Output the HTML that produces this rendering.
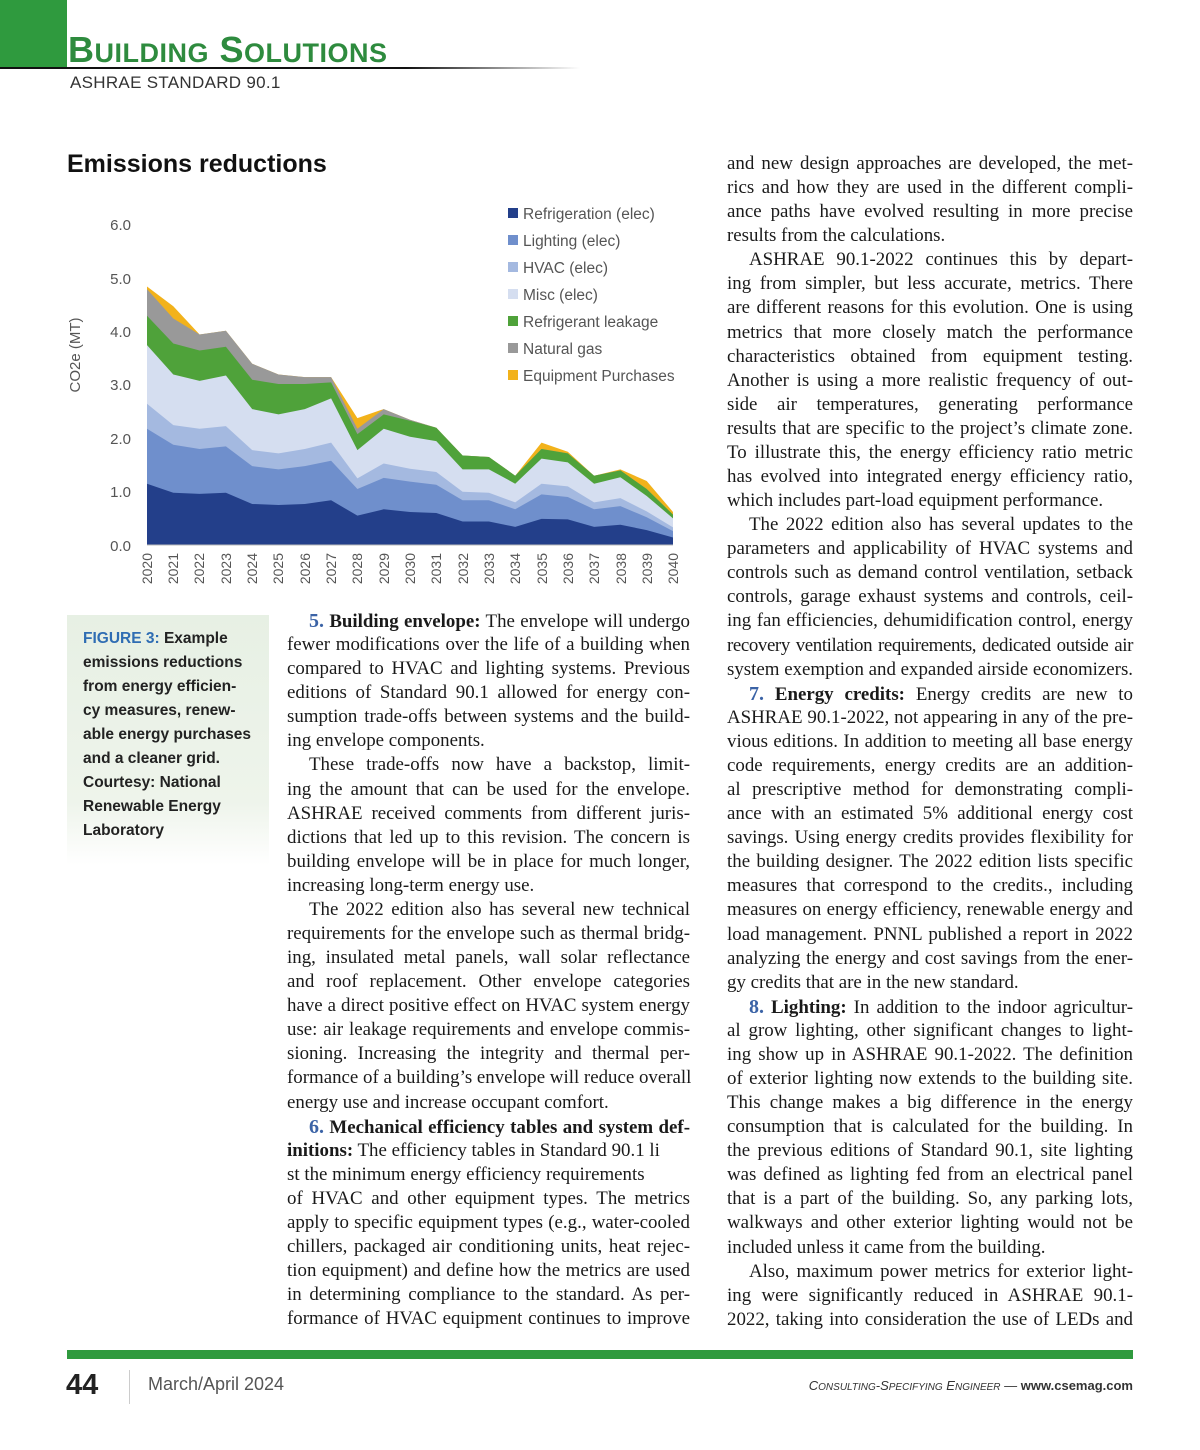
<!DOCTYPE html>
<html><head><meta charset="utf-8">
<style>
*{margin:0;padding:0;box-sizing:border-box}
body{width:1200px;height:1450px;background:#fff;position:relative;overflow:hidden;font-family:"Liberation Serif",serif;color:#1a1a1a}
.abs{position:absolute}
.col{position:absolute;font-size:18.9px;line-height:24.08px}
.col div{white-space:nowrap;text-align:justify;text-align-last:justify;height:24.08px}
.col div.e{text-align-last:left}
.col div.i{padding-left:22px}
.n{color:#3b63a6;font-weight:bold;font-size:20px}
.cap{font-family:"Liberation Sans",sans-serif;font-weight:bold;font-size:15.5px;line-height:24px;color:#222}
</style></head><body>
<div class="abs" style="left:0;top:0;width:67px;height:68px;background:#2f9a3e"></div>
<div class="abs" style="left:68px;top:30px;font-family:'Liberation Sans',sans-serif;font-weight:bold;color:#2e8b3e;font-size:36px;letter-spacing:0.5px;line-height:40px">B<span style="font-size:27px">UILDING</span> S<span style="font-size:27px">OLUTIONS</span></div>
<div class="abs" style="left:0;top:67px;width:580px;height:2px;background:linear-gradient(to right,#111 70%,#fff)"></div>
<div class="abs" style="left:70px;top:73px;font-family:'Liberation Sans',sans-serif;font-size:17px;color:#333;letter-spacing:0.3px">ASHRAE STANDARD 90.1</div>
<div class="abs" style="left:67px;top:150px;font-family:'Liberation Sans',sans-serif;font-weight:bold;font-size:25px;color:#111">Emissions reductions</div>

<svg class="abs" style="left:0;top:0" width="1200" height="620" font-family="Liberation Sans, sans-serif">
<g transform="translate(147,545) scale(26.3,-53.3)">
<polygon fill="#f2b21b" points="0,4.85 1,4.48 2,3.95 3,4.02 4,3.4 5,3.2 6,3.15 7,3.15 8,2.38 9,2.55 10,2.35 11,2.2 12,1.68 13,1.65 14,1.3 15,1.92 16,1.75 17,1.3 18,1.42 19,1.2 20,0.62 20,0 0,0"/>
<polygon fill="#999" points="0,4.8 1,4.25 2,3.95 3,4.02 4,3.4 5,3.2 6,3.15 7,3.15 8,2.18 9,2.55 10,2.35 11,2.2 12,1.68 13,1.65 14,1.3 15,1.8 16,1.72 17,1.3 18,1.4 19,1.05 20,0.57 20,0 0,0"/>
<polygon fill="#4fa23a" points="0,4.3 1,3.78 2,3.65 3,3.72 4,3.1 5,3.02 6,3.02 7,3.05 8,2.08 9,2.45 10,2.33 11,2.2 12,1.68 13,1.65 14,1.3 15,1.8 16,1.72 17,1.3 18,1.4 19,1.05 20,0.57 20,0 0,0"/>
<polygon fill="#d5def0" points="0,3.75 1,3.2 2,3.08 3,3.18 4,2.55 5,2.45 6,2.55 7,2.75 8,1.78 9,2.18 10,2.03 11,1.95 12,1.42 13,1.42 14,1.15 15,1.62 16,1.55 17,1.15 18,1.27 19,0.92 20,0.5 20,0 0,0"/>
<polygon fill="#a4b9e0" points="0,2.65 1,2.25 2,2.18 3,2.23 4,1.78 5,1.72 6,1.8 7,1.92 8,1.25 9,1.53 10,1.43 11,1.37 12,1 13,0.98 14,0.8 15,1.15 16,1.1 17,0.8 18,0.88 19,0.63 20,0.33 20,0 0,0"/>
<polygon fill="#6f8fcc" points="0,2.18 1,1.88 2,1.8 3,1.85 4,1.48 5,1.42 6,1.48 7,1.58 8,1.05 9,1.26 10,1.19 11,1.13 12,0.84 13,0.84 14,0.67 15,0.95 16,0.9 17,0.67 18,0.73 19,0.52 20,0.26 20,0 0,0"/>
<polygon fill="#233f8a" points="0,1.15 1,0.98 2,0.96 3,0.98 4,0.77 5,0.75 6,0.77 7,0.84 8,0.55 9,0.67 10,0.62 11,0.6 12,0.44 13,0.44 14,0.34 15,0.49 16,0.48 17,0.34 18,0.38 19,0.28 20,0.14 20,0 0,0"/>
</g>
<line x1="147" y1="545" x2="673" y2="545" stroke="#bbb"/>
<g fill="#555" font-size="15" text-anchor="end">
<text x="131" y="551">0.0</text><text x="131" y="497">1.0</text><text x="131" y="444">2.0</text><text x="131" y="390">3.0</text><text x="131" y="337">4.0</text><text x="131" y="284">5.0</text><text x="131" y="230">6.0</text>
</g>
<text transform="translate(80,355) rotate(-90)" fill="#555" font-size="15" text-anchor="middle">CO2e (MT)</text>
<g fill="#555" font-size="14" text-anchor="end">
<text transform="translate(152,553) rotate(-90)">2020</text><text transform="translate(178,553) rotate(-90)">2021</text><text transform="translate(204,553) rotate(-90)">2022</text><text transform="translate(231,553) rotate(-90)">2023</text><text transform="translate(257,553) rotate(-90)">2024</text><text transform="translate(283,553) rotate(-90)">2025</text><text transform="translate(310,553) rotate(-90)">2026</text><text transform="translate(336,553) rotate(-90)">2027</text><text transform="translate(362,553) rotate(-90)">2028</text><text transform="translate(389,553) rotate(-90)">2029</text><text transform="translate(415,553) rotate(-90)">2030</text><text transform="translate(441,553) rotate(-90)">2031</text><text transform="translate(468,553) rotate(-90)">2032</text><text transform="translate(494,553) rotate(-90)">2033</text><text transform="translate(520,553) rotate(-90)">2034</text><text transform="translate(547,553) rotate(-90)">2035</text><text transform="translate(573,553) rotate(-90)">2036</text><text transform="translate(599,553) rotate(-90)">2037</text><text transform="translate(626,553) rotate(-90)">2038</text><text transform="translate(652,553) rotate(-90)">2039</text><text transform="translate(678,553) rotate(-90)">2040</text>
</g>
<g font-size="15.5" fill="#555">
<rect x="508" y="208" width="10" height="10" fill="#233f8a"/><text x="523" y="219">Refrigeration (elec)</text>
<rect x="508" y="235" width="10" height="10" fill="#6f8fcc"/><text x="523" y="246">Lighting (elec)</text>
<rect x="508" y="262" width="10" height="10" fill="#a4b9e0"/><text x="523" y="273">HVAC (elec)</text>
<rect x="508" y="289" width="10" height="10" fill="#d5def0"/><text x="523" y="300">Misc (elec)</text>
<rect x="508" y="316" width="10" height="10" fill="#4fa23a"/><text x="523" y="327">Refrigerant leakage</text>
<rect x="508" y="343" width="10" height="10" fill="#999"/><text x="523" y="354">Natural gas</text>
<rect x="508" y="370" width="10" height="10" fill="#f2b21b"/><text x="523" y="381">Equipment Purchases</text>
</g>
</svg>

<div class="abs" style="left:67px;top:615px;width:202px;height:250px;background:linear-gradient(to bottom,#e7f0e4 0%,#eef4eb 75%,#fff 100%)"></div>
<div class="abs cap" style="left:83px;top:627px;width:185px"><span style="color:#2f6db3">FIGURE 3:</span> Example<br>emissions reductions<br>from energy efficien-<br>cy measures, renew-<br>able energy purchases<br>and a cleaner grid.<br>Courtesy: National<br>Renewable Energy<br>Laboratory</div>

<div class="col" style="left:287px;top:609px;width:403px">
<div class="i"><span class="n">5.</span> <b>Building envelope:</b> The envelope will undergo</div>
<div>fewer modifications over the life of a building when</div>
<div>compared to HVAC and lighting systems. Previous</div>
<div>editions of Standard 90.1 allowed for energy con-</div>
<div>sumption trade-offs between systems and the build-</div>
<div class="e">ing envelope components.</div>
<div class="i">These trade-offs now have a backstop, limit-</div>
<div>ing the amount that can be used for the envelope.</div>
<div>ASHRAE received comments from different juris-</div>
<div>dictions that led up to this revision. The concern is</div>
<div>building envelope will be in place for much longer,</div>
<div class="e">increasing long-term energy use.</div>
<div class="i">The 2022 edition also has several new technical</div>
<div>requirements for the envelope such as thermal bridg-</div>
<div>ing, insulated metal panels, wall solar reflectance</div>
<div>and roof replacement. Other envelope categories</div>
<div>have a direct positive effect on HVAC system energy</div>
<div>use: air leakage requirements and envelope commis-</div>
<div>sioning. Increasing the integrity and thermal per-</div>
<div>formance of a building’s envelope will reduce overall</div>
<div class="e">energy use and increase occupant comfort.</div>
<div class="i"><span class="n">6.</span> <b>Mechanical efficiency tables and system def-</b></div>
<div class="e"><b>initions:</b> The efficiency tables in Standard 90.1 li</div>
<div class="e">st the minimum energy efficiency requirements</div>
<div>of HVAC and other equipment types. The metrics</div>
<div>apply to specific equipment types (e.g., water-cooled</div>
<div>chillers, packaged air conditioning units, heat rejec-</div>
<div>tion equipment) and define how the metrics are used</div>
<div>in determining compliance to the standard. As per-</div>
<div>formance of HVAC equipment continues to improve</div>
</div>

<div class="col" style="left:727px;top:152px;width:406px">
<div>and new design approaches are developed, the met-</div>
<div>rics and how they are used in the different compli-</div>
<div>ance paths have evolved resulting in more precise</div>
<div class="e">results from the calculations.</div>
<div class="i">ASHRAE 90.1-2022 continues this by depart-</div>
<div>ing from simpler, but less accurate, metrics. There</div>
<div>are different reasons for this evolution. One is using</div>
<div>metrics that more closely match the performance</div>
<div>characteristics obtained from equipment testing.</div>
<div>Another is using a more realistic frequency of out-</div>
<div>side air temperatures, generating performance</div>
<div>results that are specific to the project’s climate zone.</div>
<div>To illustrate this, the energy efficiency ratio metric</div>
<div>has evolved into integrated energy efficiency ratio,</div>
<div class="e">which includes part-load equipment performance.</div>
<div class="i">The 2022 edition also has several updates to the</div>
<div>parameters and applicability of HVAC systems and</div>
<div>controls such as demand control ventilation, setback</div>
<div>controls, garage exhaust systems and controls, ceil-</div>
<div>ing fan efficiencies, dehumidification control, energy</div>
<div style="letter-spacing:-0.4px">recovery ventilation requirements, dedicated outside air</div>
<div class="e">system exemption and expanded airside economizers.</div>
<div class="i"><span class="n">7.</span> <b>Energy credits:</b> Energy credits are new to</div>
<div>ASHRAE 90.1-2022, not appearing in any of the pre-</div>
<div>vious editions. In addition to meeting all base energy</div>
<div>code requirements, energy credits are an addition-</div>
<div>al prescriptive method for demonstrating compli-</div>
<div>ance with an estimated 5% additional energy cost</div>
<div>savings. Using energy credits provides flexibility for</div>
<div>the building designer. The 2022 edition lists specific</div>
<div>measures that correspond to the credits., including</div>
<div>measures on energy efficiency, renewable energy and</div>
<div>load management. PNNL published a report in 2022</div>
<div>analyzing the energy and cost savings from the ener-</div>
<div class="e">gy credits that are in the new standard.</div>
<div class="i"><span class="n">8.</span> <b>Lighting:</b> In addition to the indoor agricultur-</div>
<div>al grow lighting, other significant changes to light-</div>
<div>ing show up in ASHRAE 90.1-2022. The definition</div>
<div>of exterior lighting now extends to the building site.</div>
<div>This change makes a big difference in the energy</div>
<div>consumption that is calculated for the building. In</div>
<div>the previous editions of Standard 90.1, site lighting</div>
<div>was defined as lighting fed from an electrical panel</div>
<div>that is a part of the building. So, any parking lots,</div>
<div>walkways and other exterior lighting would not be</div>
<div class="e">included unless it came from the building.</div>
<div class="i">Also, maximum power metrics for exterior light-</div>
<div>ing were significantly reduced in ASHRAE 90.1-</div>
<div>2022, taking into consideration the use of LEDs and</div>
</div>

<div class="abs" style="left:67px;top:1350px;width:1066px;height:9px;background:#2f9a3e"></div>
<div class="abs" style="left:66px;top:1369px;font-family:'Liberation Sans',sans-serif;font-weight:bold;font-size:29px;color:#222">44</div>
<div class="abs" style="left:129px;top:1370px;width:1px;height:34px;background:#ccc"></div>
<div class="abs" style="left:148px;top:1374px;font-family:'Liberation Sans',sans-serif;font-size:18px;color:#555">March/April 2024</div>
<div class="abs" style="right:67px;top:1378px;font-family:'Liberation Sans',sans-serif;font-size:13px;color:#333;white-space:nowrap"><i>C<span style="font-size:10px">ONSULTING</span>-S<span style="font-size:10px">PECIFYING</span> E<span style="font-size:10px">NGINEER</span></i> — <b>www.csemag.com</b></div>
</body></html>
